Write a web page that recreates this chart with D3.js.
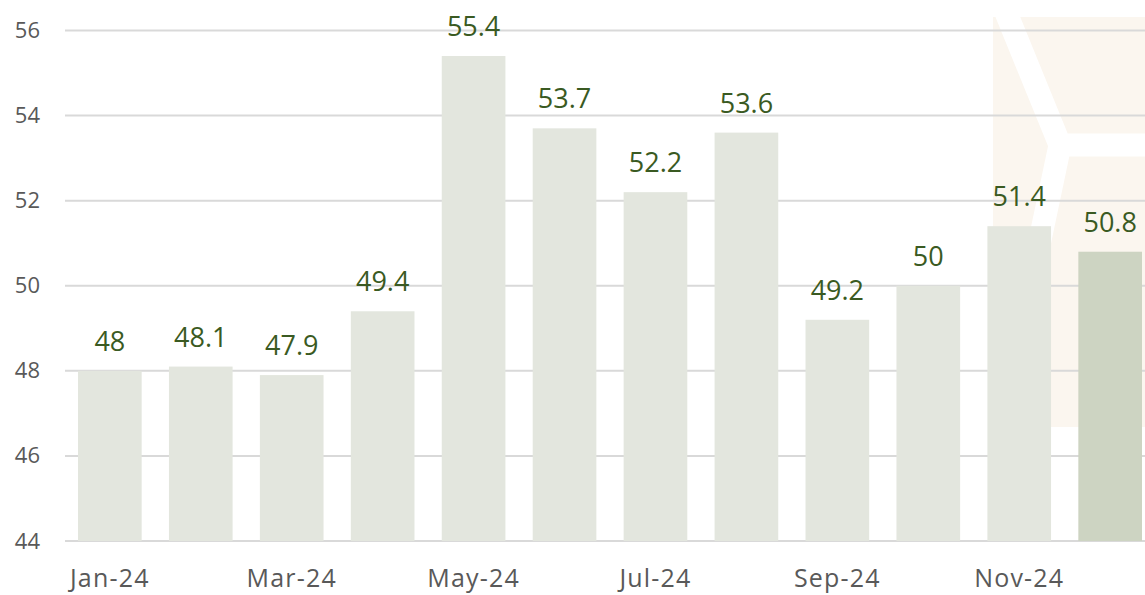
<!DOCTYPE html>
<html>
<head>
<meta charset="utf-8">
<script src="https://cdn.jsdelivr.net/npm/d3@7"></script>
<style>
  body { margin: 0; background: #fff; }
  svg { display: block; font-family: "Open Sans", sans-serif; }
</style>
</head>
<body>
<svg></svg>
<script>
const months = ["Jan-24", "Feb-24", "Mar-24", "Apr-24", "May-24", "Jun-24",
                "Jul-24", "Aug-24", "Sep-24", "Oct-24", "Nov-24", "Dec-24"];
const values = [48, 48.1, 47.9, 49.4, 55.4, 53.7, 52.2, 53.6, 49.2, 50, 51.4, 50.8];
const yTicks = [44, 46, 48, 50, 52, 54, 56];
const xTickLabels = ["Jan-24", "Mar-24", "May-24", "Jul-24", "Sep-24", "Nov-24"];

const width = 1145, height = 595;

const svg = d3.select("svg")
    .attr("width", width)
    .attr("height", height);

// faint logo watermark behind the right side
const wm = svg.append("g");
wm.append("rect")
    .attr("x", 993).attr("y", 17)
    .attr("width", 152).attr("height", 410)
    .attr("fill", "#fbf6ef");
wm.append("path")
    .attr("d", "M1005,10 L1060,145 L1150,145 M1060,145 L1000,430")
    .attr("fill", "none")
    .attr("stroke", "#fff")
    .attr("stroke-width", 23);

const x = d3.scaleBand()
    .domain(months)
    .range([65, 1155])
    .paddingInner(0.3)
    .paddingOuter(0.143);

const y = d3.scaleLinear()
    .domain([44, 56])
    .range([541, 30.5]);

// gridlines
svg.append("g")
    .selectAll("line")
    .data(yTicks)
    .join("line")
    .attr("x1", 65)
    .attr("x2", width)
    .attr("y1", d => y(d))
    .attr("y2", d => y(d))
    .attr("stroke", "#d9d9d9")
    .attr("stroke-width", 2);

// y axis labels
const yAxis = svg.append("g")
    .attr("transform", "translate(40,0)")
    .call(d3.axisLeft(y).tickValues(yTicks).tickSize(0).tickPadding(0));
yAxis.select(".domain").remove();
yAxis.selectAll("text")
    .attr("fill", "#595959")
    .style("font-size", "22px")
    .style("font-family", "'Open Sans', sans-serif");

// bars
svg.append("g")
    .selectAll("rect")
    .data(values)
    .join("rect")
    .attr("x", (d, i) => x(months[i]))
    .attr("y", d => y(d))
    .attr("width", x.bandwidth())
    .attr("height", d => y(44) - y(d))
    .attr("fill", (d, i) => i === values.length - 1 ? "#cdd4c2" : "#e3e6de");

// value labels
svg.append("g")
    .selectAll("text")
    .data(values)
    .join("text")
    .attr("x", (d, i) => x(months[i]) + x.bandwidth() / 2)
    .attr("y", d => y(d) - 20)
    .attr("text-anchor", "middle")
    .attr("fill", "#3a5a22")
    .style("font-size", "27px")
    .text(d => d);

// x axis labels
const xAxis = svg.append("g")
    .attr("transform", "translate(0,541)")
    .call(d3.axisBottom(x).tickValues(xTickLabels).tickSize(0));
xAxis.select(".domain").remove();
xAxis.selectAll("text")
    .attr("y", 46)
    .attr("dy", 0)
    .attr("fill", "#595959")
    .style("font-size", "25px")
    .style("letter-spacing", "1.2px")
    .style("font-family", "'Open Sans', sans-serif");
</script>
</body>
</html>
